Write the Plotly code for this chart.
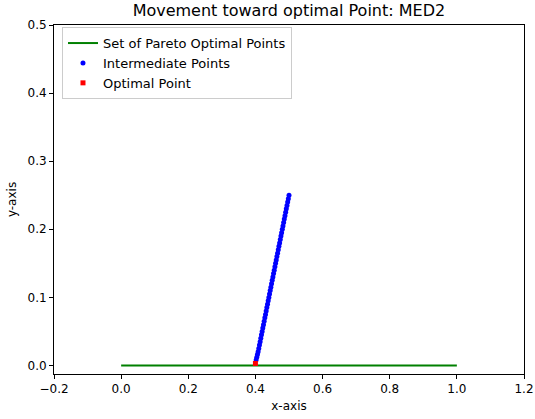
import plotly.graph_objects as go

pareto_x = [0.0, 1.0]
pareto_y = [0.0, 0.0]

inter_x = [0.500, 0.498, 0.496, 0.494, 0.492, 0.490, 0.488, 0.486, 0.484, 0.482,
           0.480, 0.478, 0.476, 0.474, 0.472, 0.470, 0.468, 0.466, 0.464, 0.462,
           0.460, 0.458, 0.456, 0.454, 0.452, 0.450, 0.448, 0.446, 0.444, 0.442,
           0.440, 0.438, 0.436, 0.434, 0.432, 0.430, 0.428, 0.426, 0.424, 0.422,
           0.420, 0.418, 0.416, 0.414, 0.412, 0.410, 0.408, 0.406, 0.404, 0.402]
inter_y = [0.250, 0.245, 0.240, 0.235, 0.230, 0.225, 0.220, 0.215, 0.210, 0.205,
           0.200, 0.195, 0.190, 0.185, 0.180, 0.175, 0.170, 0.165, 0.160, 0.155,
           0.150, 0.145, 0.140, 0.135, 0.130, 0.125, 0.120, 0.115, 0.110, 0.105,
           0.100, 0.095, 0.090, 0.085, 0.080, 0.075, 0.070, 0.065, 0.060, 0.055,
           0.050, 0.045, 0.040, 0.035, 0.030, 0.025, 0.020, 0.016, 0.012, 0.008]

opt_x = [0.4]
opt_y = [0.003]

x_ticks = [-0.2, 0.0, 0.2, 0.4, 0.6, 0.8, 1.0, 1.2]
x_tick_labels = ["\u22120.2", "0.0", "0.2", "0.4", "0.6", "0.8", "1.0", "1.2"]
y_ticks = [0.0, 0.1, 0.2, 0.3, 0.4, 0.5]
y_tick_labels = ["0.0", "0.1", "0.2", "0.3", "0.4", "0.5"]

fig = go.Figure()
fig.add_trace(go.Scatter(x=pareto_x, y=pareto_y, mode="lines",
                         line=dict(color="green", width=2),
                         name="Set of Pareto Optimal Points"))
fig.add_trace(go.Scatter(x=inter_x, y=inter_y, mode="markers",
                         marker=dict(color="blue", size=5),
                         name="Intermediate Points"))
fig.add_trace(go.Scatter(x=opt_x, y=opt_y, mode="markers",
                         marker=dict(color="red", size=5, symbol="square"),
                         name="Optimal Point"))

axis_common = dict(showgrid=False, zeroline=False, showline=True, linecolor="black",
                   linewidth=1, mirror=True, ticks="outside", ticklen=4,
                   tickcolor="black", tickfont=dict(size=12, color="black"),
                   automargin=False)

fig.update_layout(
    width=535, height=419,
    margin=dict(l=54, r=11, t=25, b=45),
    paper_bgcolor="white", plot_bgcolor="white",
    font=dict(family="DejaVu Sans", size=12, color="black"),
    title=dict(text="Movement toward optimal Point: MED2", x=0.54, xanchor="center",
               y=0.974, yanchor="middle", font=dict(size=16)),
    xaxis=dict(range=[-0.2, 1.2], tickvals=x_ticks, ticktext=x_tick_labels,
               title=dict(text="x-axis", standoff=6, font=dict(size=12)), **axis_common),
    yaxis=dict(range=[-0.0125, 0.5], tickvals=y_ticks, ticktext=y_tick_labels,
               title=dict(text="y-axis", standoff=8, font=dict(size=12)), **axis_common),
    legend=dict(x=0.017, y=0.994, xanchor="left", yanchor="top",
                bgcolor="rgba(255,255,255,0.8)", bordercolor="#cccccc", borderwidth=1,
                font=dict(size=13), tracegroupgap=0, itemwidth=30),
    showlegend=True,
)

fig.write_html("out.html")
